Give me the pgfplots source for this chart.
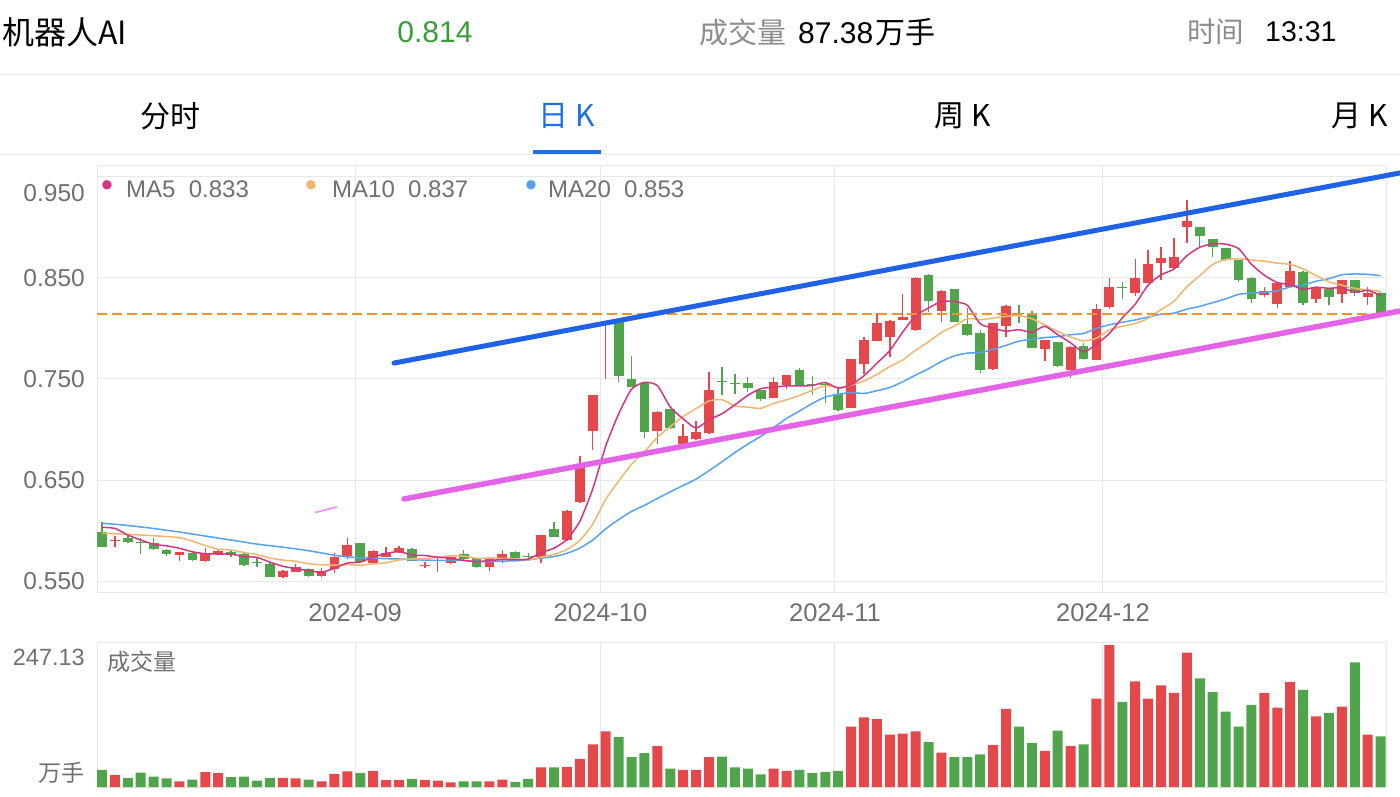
\documentclass[border=0pt]{standalone}
\usepackage{pgfplots}
\pgfplotsset{compat=1.18}
\usepackage{pgfplotstable}
\usepackage{fontspec}
\setmainfont{Liberation Sans}
\newfontfamily\cjk{Noto Sans CJK SC}
\newcommand\fs[1]{\fontsize{#1}{#1}\selectfont}
\definecolor{cred}{RGB}{228,72,74}
\definecolor{cgreen}{RGB}{80,165,76}
\definecolor{gridc}{RGB}{232,232,232}
\definecolor{labc}{RGB}{112,112,112}
\definecolor{hgray}{RGB}{140,140,140}
\definecolor{ma5c}{RGB}{214,52,128}
\definecolor{ma10c}{RGB}{240,182,112}
\definecolor{ma20c}{RGB}{84,162,240}
\definecolor{dashc}{RGB}{240,146,50}
\definecolor{trendblue}{RGB}{32,98,230}
\definecolor{trendpink}{RGB}{228,100,232}
\definecolor{lightpink}{RGB}{240,150,240}
\definecolor{tabblue}{RGB}{30,112,232}
\definecolor{hgreen}{RGB}{56,158,56}

% rising (red) candles: k open high low close volume
\pgfplotstableread{
k o h l c v
1 0.5896 0.5946 0.5834 0.5906 21
6 0.5757 0.5786 0.5701 0.5784 10
8 0.5698 0.5824 0.5691 0.5780 26
9 0.5767 0.5814 0.5757 0.5800 24
14 0.5536 0.5609 0.5527 0.5599 16
15 0.5592 0.5668 0.5586 0.5642 15
17 0.5550 0.5627 0.5543 0.5603 10
18 0.5619 0.5774 0.5576 0.5738 23
19 0.5748 0.5923 0.5715 0.5857 27
21 0.5681 0.5807 0.5671 0.5797 28
22 0.5741 0.5840 0.5734 0.5780 12
23 0.5790 0.5847 0.5774 0.5824 12
25 0.5651 0.5691 0.5625 0.5661 12
26 0.5700 0.5725 0.5592 0.5712 11
27 0.5681 0.5758 0.5671 0.5734 8
30 0.5636 0.5741 0.5602 0.5715 10
31 0.5725 0.5807 0.5675 0.5764 13
34 0.5741 0.5960 0.5681 0.5955 34
36 0.5906 0.6200 0.5900 0.6196 35
37 0.6279 0.6738 0.6275 0.6632 49
38 0.6988 0.7345 0.6797 0.7342 74
39 0.8057 0.8067 0.7500 0.8067 97
43 0.6988 0.7180 0.6853 0.7176 71
45 0.6856 0.7055 0.6814 0.6939 30
46 0.6906 0.7087 0.6900 0.6972 30
47 0.6962 0.7572 0.6960 0.7388 52
52 0.7315 0.7517 0.7310 0.7467 32
53 0.7440 0.7540 0.7400 0.7535 28
58 0.7216 0.7698 0.7210 0.7698 105
59 0.7649 0.7913 0.7550 0.7886 121
60 0.7879 0.8150 0.7875 0.8057 118
61 0.7919 0.8080 0.7721 0.8074 91
62 0.8084 0.8342 0.8080 0.8111 93
63 0.7985 0.8510 0.7980 0.8503 97
65 0.8176 0.8380 0.8067 0.8374 60
69 0.7596 0.8055 0.7590 0.8051 73
70 0.8025 0.8230 0.7919 0.8223 136
73 0.7797 0.7890 0.7681 0.7886 63
75 0.7589 0.7825 0.7507 0.7820 71
77 0.7688 0.8240 0.7685 0.8193 154
78 0.8216 0.8497 0.8193 0.8414 247.13
80 0.8348 0.8688 0.8322 0.8503 184
81 0.8454 0.8777 0.8450 0.8639 154
82 0.8652 0.8804 0.8480 0.8695 177
83 0.8596 0.8893 0.8590 0.8705 164
84 0.9000 0.9272 0.8850 0.9064 234
90 0.8332 0.8414 0.8309 0.8374 164
91 0.8240 0.8450 0.8200 0.8448 138
92 0.8414 0.8671 0.8410 0.8572 183
94 0.8289 0.8400 0.8255 0.8398 123
96 0.8342 0.8485 0.8255 0.8480 140
98 0.8309 0.8414 0.8233 0.8349 91
}\upT

% falling (green) candles: k open high low close volume
\pgfplotstableread{
k o h l c v
0 0.5982 0.6087 0.5840 0.5840 30
2 0.5929 0.5949 0.5880 0.5883 16
3 0.5883 0.5923 0.5764 0.5873 25
4 0.5879 0.5923 0.5807 0.5814 18
5 0.5807 0.5817 0.5748 0.5764 15
7 0.5774 0.5790 0.5698 0.5708 13
10 0.5790 0.5807 0.5741 0.5757 17
11 0.5764 0.5780 0.5644 0.5658 18
12 0.5685 0.5725 0.5642 0.5675 11
13 0.5668 0.5675 0.5536 0.5543 16
16 0.5616 0.5627 0.5543 0.5550 13
20 0.5873 0.5880 0.5691 0.5691 24
24 0.5817 0.5824 0.5698 0.5698 14
28 0.5764 0.5807 0.5708 0.5715 10
29 0.5725 0.5730 0.5630 0.5636 10
32 0.5790 0.5795 0.5725 0.5731 9
33 0.5748 0.5774 0.5701 0.5738 14
35 0.6012 0.6087 0.5935 0.5939 34
40 0.8067 0.8067 0.7473 0.7530 87
41 0.7500 0.7728 0.7418 0.7418 52
42 0.7463 0.7463 0.6913 0.6978 59
44 0.7200 0.7205 0.7005 0.7012 32
48 0.7480 0.7616 0.7342 0.7470 53
49 0.7460 0.7550 0.7348 0.7450 34
50 0.7457 0.7517 0.7374 0.7408 32
51 0.7391 0.7395 0.7282 0.7302 22
54 0.7589 0.7612 0.7441 0.7441 30
55 0.7447 0.7530 0.7342 0.7437 24
56 0.7455 0.7473 0.7265 0.7445 26
57 0.7351 0.7398 0.7180 0.7193 28
64 0.8530 0.8535 0.8166 0.8272 78
66 0.8388 0.8395 0.8060 0.8067 52
67 0.8045 0.8200 0.7930 0.7936 52
68 0.7958 0.7985 0.7556 0.7589 57
71 0.8150 0.8232 0.8057 0.8140 105
72 0.8143 0.8176 0.7810 0.7810 77
74 0.7863 0.7870 0.7620 0.7632 98
76 0.7830 0.7853 0.7690 0.7695 74
79 0.8412 0.8463 0.8289 0.8402 148
85 0.9002 0.9005 0.8804 0.8919 189
86 0.8883 0.8890 0.8711 0.8810 165
87 0.8794 0.8800 0.8670 0.8678 131
88 0.8675 0.8678 0.8463 0.8485 105
89 0.8503 0.8510 0.8255 0.8289 143
93 0.8562 0.8565 0.8233 0.8255 169
95 0.8388 0.8390 0.8233 0.8315 129
97 0.8480 0.8482 0.8322 0.8349 217
99 0.8354 0.8360 0.8140 0.8140 88
}\dnT

% moving averages
\pgfplotstableread{
k m5 m10 m20
0 0.6031 0.5972 0.6071
1 0.6021 0.5968 0.6062
2 0.5955 0.5962 0.6050
3 0.5906 0.5955 0.6035
4 0.5863 0.5948 0.6020
5 0.5848 0.5940 0.6002
6 0.5824 0.5930 0.5985
7 0.5789 0.5895 0.5965
8 0.5770 0.5850 0.5945
9 0.5767 0.5815 0.5925
10 0.5766 0.5807 0.5905
11 0.5741 0.5782 0.5885
12 0.5734 0.5761 0.5865
13 0.5687 0.5728 0.5850
14 0.5646 0.5707 0.5835
15 0.5623 0.5695 0.5818
16 0.5602 0.5671 0.5800
17 0.5587 0.5661 0.5778
18 0.5626 0.5657 0.5755
19 0.5678 0.5662 0.5739
20 0.5688 0.5656 0.5731
21 0.5737 0.5670 0.5726
22 0.5773 0.5680 0.5721
23 0.5790 0.5708 0.5718
24 0.5758 0.5718 0.5712
25 0.5752 0.5720 0.5707
26 0.5735 0.5736 0.5704
27 0.5726 0.5749 0.5705
28 0.5704 0.5747 0.5702
29 0.5692 0.5725 0.5694
30 0.5702 0.5727 0.5691
31 0.5713 0.5724 0.5697
32 0.5712 0.5719 0.5700
33 0.5717 0.5710 0.5709
34 0.5781 0.5736 0.5727
35 0.5825 0.5764 0.5742
36 0.5912 0.5812 0.5774
37 0.6092 0.5902 0.5826
38 0.6413 0.6065 0.5906
39 0.6835 0.6308 0.6016
40 0.7153 0.6489 0.6108
41 0.7398 0.6655 0.6189
42 0.7467 0.6780 0.6249
43 0.7434 0.6923 0.6317
44 0.7223 0.7029 0.6383
45 0.7105 0.7129 0.6446
46 0.7015 0.7207 0.6509
47 0.7097 0.7282 0.6592
48 0.7156 0.7295 0.6680
49 0.7244 0.7233 0.6771
50 0.7338 0.7221 0.6855
51 0.7404 0.7210 0.6932
52 0.7419 0.7258 0.7019
53 0.7432 0.7294 0.7109
54 0.7431 0.7337 0.7183
55 0.7436 0.7387 0.7258
56 0.7465 0.7434 0.7320
57 0.7410 0.7415 0.7349
58 0.7443 0.7438 0.7366
59 0.7532 0.7481 0.7357
60 0.7656 0.7546 0.7384
61 0.7782 0.7623 0.7416
62 0.7965 0.7688 0.7473
63 0.8126 0.7785 0.7539
64 0.8203 0.7868 0.7602
65 0.8267 0.7961 0.7674
66 0.8265 0.8024 0.7729
67 0.8230 0.8098 0.7756
68 0.8048 0.8087 0.7762
69 0.8003 0.8103 0.7792
70 0.7973 0.8120 0.7833
71 0.7988 0.8127 0.7875
72 0.7963 0.8097 0.7892
73 0.8022 0.8035 0.7910
74 0.7938 0.7971 0.7919
75 0.7858 0.7915 0.7938
76 0.7769 0.7878 0.7951
77 0.7845 0.7904 0.8001
78 0.7951 0.7986 0.8037
79 0.8105 0.8022 0.8062
80 0.8241 0.8050 0.8085
81 0.8430 0.8099 0.8113
82 0.8531 0.8188 0.8142
83 0.8589 0.8270 0.8152
84 0.8721 0.8413 0.8192
85 0.8804 0.8523 0.8219
86 0.8839 0.8634 0.8256
87 0.8835 0.8683 0.8293
88 0.8791 0.8690 0.8338
89 0.8636 0.8679 0.8350
90 0.8527 0.8666 0.8358
91 0.8455 0.8647 0.8373
92 0.8434 0.8634 0.8411
93 0.8388 0.8589 0.8430
94 0.8409 0.8523 0.8468
95 0.8398 0.8462 0.8493
96 0.8404 0.8429 0.8532
97 0.8359 0.8397 0.8540
98 0.8378 0.8383 0.8536
99 0.8327 0.8368 0.8523
}\maT

\begin{document}
\begin{tikzpicture}[x=1pt,y=1pt]
\useasboundingbox (0,0) rectangle (1400,796);
\fill[white] (0,0) rectangle (1400,796);

% header
\node[anchor=west, inner sep=0pt] at (2,764) {\fs{32}\cjk 机器人AI};
\node[inner sep=0pt, text=hgreen] at (435,764) {\fs{30}0.814};
\node[anchor=west, inner sep=0pt, text=hgray] at (699,764) {\fs{29}\cjk 成交量};
\node[anchor=west, inner sep=0pt] at (798,764) {\fs{30}87.38\hspace{2pt}{\cjk 万手}};
\node[anchor=west, inner sep=0pt, text=hgray] at (1187,764) {\fs{28.5}\cjk 时间};
\node[anchor=west, inner sep=0pt] at (1265,764) {\fs{28.5}13:31};
\draw[gridc, line width=1pt] (0,721) -- (1400,721);

% tabs
\node[inner sep=0pt] at (170,680) {\fs{30}\cjk 分时};
\node[inner sep=0pt, text=tabblue] at (567,680) {\fs{30}\cjk 日 K};
\node[inner sep=0pt] at (963,680) {\fs{30}\cjk 周 K};
\node[inner sep=0pt] at (1360,680) {\fs{30}\cjk 月 K};
\draw[gridc, line width=1pt] (0,641.5) -- (1400,641.5);
\fill[tabblue] (533,642) rectangle (601,645.5);

% main price axis
\begin{axis}[
  at={(97pt,204pt)}, anchor=south west, scale only axis,
  width=1290pt, height=426pt,
  xmin=-0.387, xmax=99.49, ymin=0.53911, ymax=0.96089,
  clip=false,
  axis line style={draw=gridc, line width=1pt},
  tick style={draw=none},
  xtick={19.6,38.6,56.75,77.5},
  xticklabels={2024-09,2024-10,2024-11,2024-12},
  ytick={0.55,0.65,0.75,0.85},
  yticklabels={0.550,0.650,0.750,0.850},
  extra y ticks={0.95}, extra y tick labels={0.950},
  extra y tick style={grid=major, yticklabel style={yshift=-16pt}},
  grid=major, grid style={draw=gridc, line width=1pt},
  ticklabel style={text=labc, inner sep=0pt},
  yticklabel style={font=\fs{24.5}, xshift=-12pt},
  xticklabel style={font=\fs{25.5}, yshift=-11pt},
]
% wicks
\addplot[draw=none, mark=none, forget plot,
  error bars/.cd, y dir=plus, y explicit, error mark=none,
  error bar style={draw=cred, line width=1.4pt}]
  table[x=k, y=l, y error expr={\thisrow{h}-\thisrow{l}}] {\upT};
\addplot[draw=none, mark=none, forget plot,
  error bars/.cd, y dir=plus, y explicit, error mark=none,
  error bar style={draw=cgreen, line width=1.4pt}]
  table[x=k, y=l, y error expr={\thisrow{h}-\thisrow{l}}] {\dnT};
% bodies
\addplot[draw=none, mark=none, forget plot,
  error bars/.cd, y dir=plus, y explicit, error mark=none,
  error bar style={draw=cred, line width=9.8pt}]
  table[x=k, y=o, y error expr={\thisrow{c}-\thisrow{o}}] {\upT};
\addplot[draw=none, mark=none, forget plot,
  error bars/.cd, y dir=plus, y explicit, error mark=none,
  error bar style={draw=cgreen, line width=9.8pt}]
  table[x=k, y=c, y error expr={\thisrow{o}-\thisrow{c}}] {\dnT};
% moving averages
\addplot[ma20c, line width=1.5pt, smooth, tension=0.4, mark=none] table[x=k, y=m20] {\maT};
\addplot[ma10c, line width=1.5pt, smooth, tension=0.4, mark=none] table[x=k, y=m10] {\maT};
\addplot[ma5c, line width=1.5pt, smooth, tension=0.4, mark=none] table[x=k, y=m5] {\maT};
% current price line
\addplot[dashc, line width=2pt, dash pattern=on 10pt off 5pt, mark=none]
  coordinates {(-0.387,0.814) (99.49,0.814)};
% drawn trend lines
\addplot[trendblue, line width=5pt, line cap=round, mark=none]
  coordinates {(22.61,0.7658) (100.5,0.9540)};
\addplot[trendpink, line width=5.5pt, line cap=round, mark=none]
  coordinates {(23.38,0.6312) (100.5,0.8173)};
\addplot[lightpink, line width=1.8pt, mark=none]
  coordinates {(16.49,0.6178) (18.19,0.6233)};
\end{axis}

% legend
\node[inner sep=0pt, text=ma5c] at (107,607) {\fs{34}•};
\node[anchor=west, inner sep=0pt, text=labc] at (126,607) {\fs{24}MA5\ \ 0.833};
\node[inner sep=0pt, text=ma10c] at (311,607) {\fs{34}•};
\node[anchor=west, inner sep=0pt, text=labc] at (332,607) {\fs{24}MA10\ \ 0.837};
\node[inner sep=0pt, text=ma20c] at (531,607) {\fs{34}•};
\node[anchor=west, inner sep=0pt, text=labc] at (548,607) {\fs{24}MA20\ \ 0.853};

% volume axis
\begin{axis}[
  at={(97pt,9pt)}, anchor=south west, scale only axis,
  width=1290pt, height=145pt,
  xmin=-0.387, xmax=99.49, ymin=0, ymax=252.35,
  axis line style={draw=gridc, line width=1pt},
  tick style={draw=none},
  xtick={19.6,38.6,56.75,77.5}, xticklabels={,,,},
  ytick=\empty,
  xmajorgrids, grid style={draw=gridc, line width=1pt},
]
\addplot[ybar, bar width=10pt, bar shift=0pt, fill=cred, draw=none] table[x=k, y=v] {\upT};
\addplot[ybar, bar width=10pt, bar shift=0pt, fill=cgreen, draw=none] table[x=k, y=v] {\dnT};
\end{axis}
\node[anchor=east, inner sep=0pt, text=labc] at (85,139) {\fs{23.5}247.13};
\node[anchor=east, inner sep=0pt, text=labc] at (85,23) {\fs{23}\cjk 万手};
\node[anchor=west, inner sep=0pt, text=labc] at (107,134) {\fs{23}\cjk 成交量};
\end{tikzpicture}
\end{document}
